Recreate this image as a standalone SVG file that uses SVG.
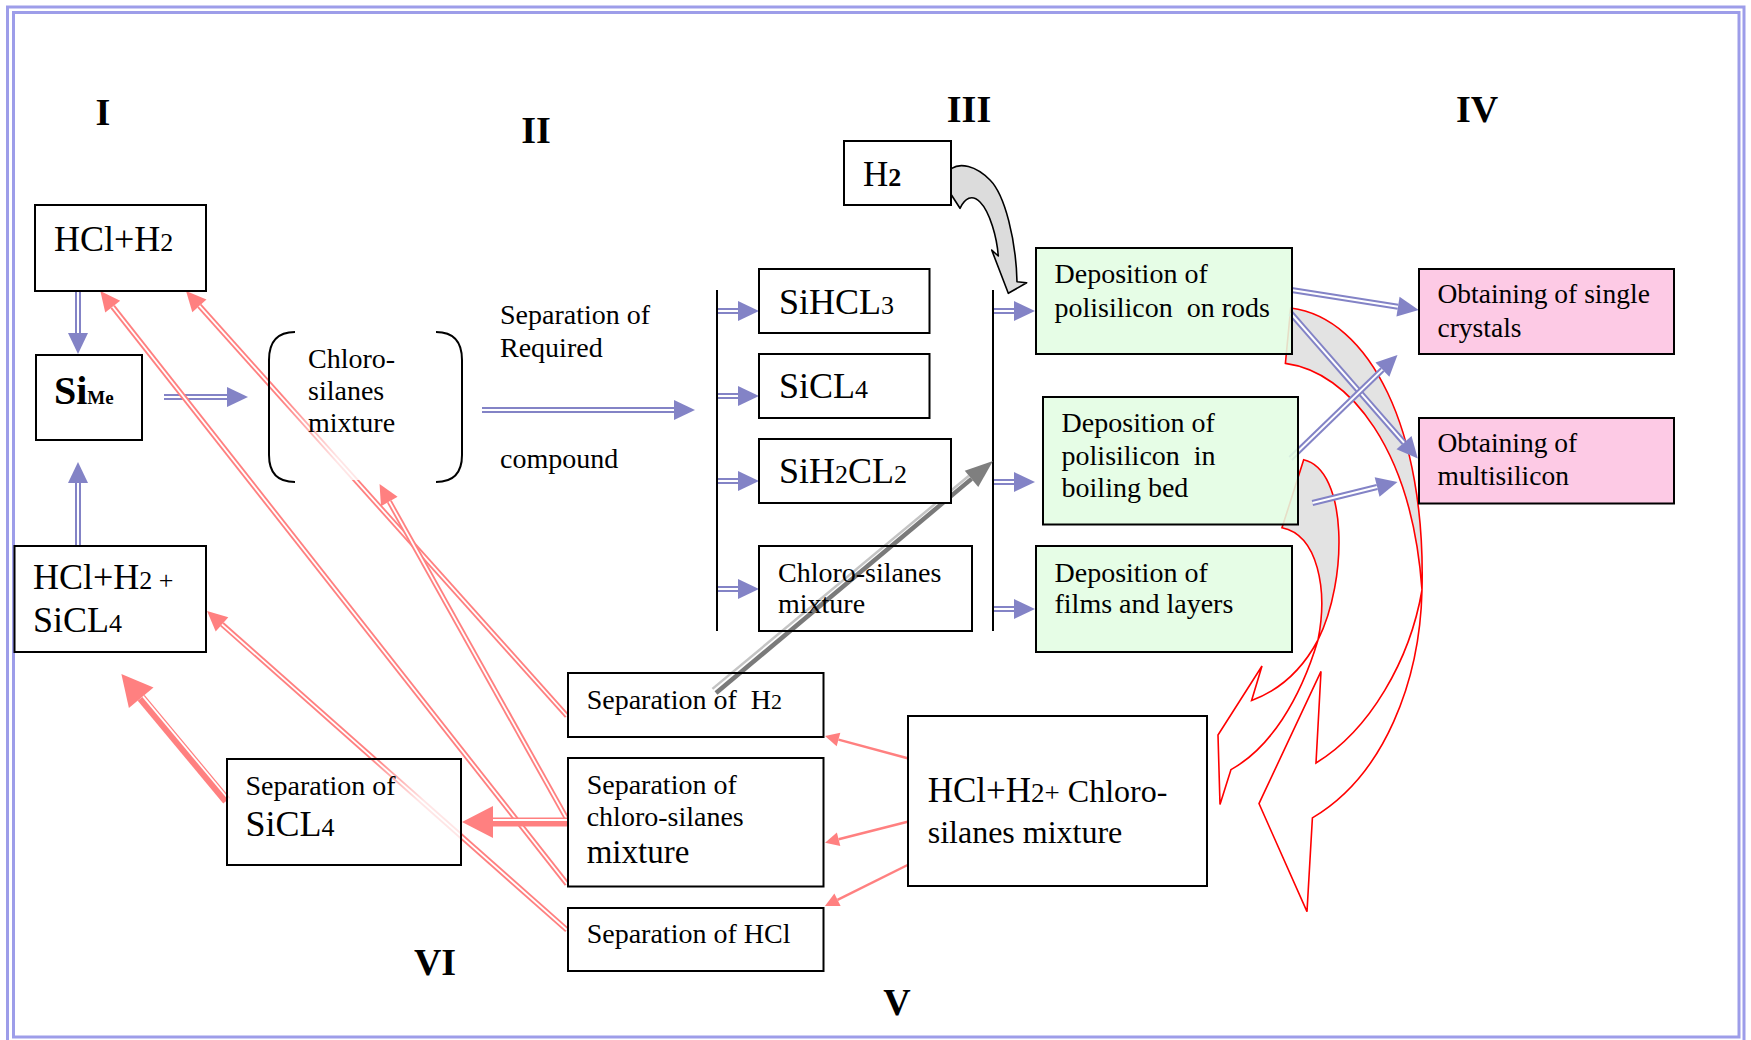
<svg xmlns="http://www.w3.org/2000/svg" width="1751" height="1040" viewBox="0 0 1751 1040">
<style>
.bx{fill:#fff;stroke:#000;stroke-width:2}
.bn{fill:none;stroke:#000;stroke-width:2}
.gb{fill:#e2fde2;fill-opacity:.88;stroke:#000;stroke-width:2}
.pb{fill:#fdcae5;stroke:#000;stroke-width:2}
text{font-family:"Liberation Serif","Times New Roman",serif;fill:#000}
.lbl{font-weight:bold;font-size:38px;text-anchor:middle}
.f28{font-size:28px}
.f36{font-size:36px}
.s26{font-size:26px}
.bl{stroke:#8383c6;stroke-width:6;fill:none;marker-end:url(#mb)}
.wl{stroke:#fff;stroke-width:2;fill:none}
.rl{stroke:#ff8080;stroke-width:5.5;fill:none;marker-end:url(#mr)}
.rw{stroke:#fff;stroke-width:1.8;fill:none}
.rt{stroke:#ff8080;stroke-width:9;fill:none;marker-end:url(#mrt)}
.rs{stroke:#ff8080;stroke-width:2.5;fill:none;marker-end:url(#mrs)}
.ca{fill:none;stroke:#ff0000;stroke-width:1.6}
.cg{fill:#e3e3e3;stroke:none}
</style>
<defs>
<marker id="mb" markerUnits="userSpaceOnUse" orient="auto" overflow="visible" refX="0" refY="0" markerWidth="1" markerHeight="1"><path d="M0,-10 L21,0 L0,10 Z" fill="#8383c6"/></marker>
<marker id="mr" markerUnits="userSpaceOnUse" orient="auto" overflow="visible" refX="0" refY="0" markerWidth="1" markerHeight="1"><path d="M0,-9.5 L20,0 L0,9.5 Z" fill="#ff8080"/></marker>
<marker id="mrt" markerUnits="userSpaceOnUse" orient="auto" overflow="visible" refX="0" refY="0" markerWidth="1" markerHeight="1"><path d="M0,-16 L31,0 L0,16 Z" fill="#ff8080"/></marker>
<marker id="mrs" markerUnits="userSpaceOnUse" orient="auto" overflow="visible" refX="0" refY="0" markerWidth="1" markerHeight="1"><path d="M0,-7 L14,0 L0,7 Z" fill="#ff8080"/></marker>
<marker id="mg" markerUnits="userSpaceOnUse" orient="auto" overflow="visible" refX="0" refY="0" markerWidth="1" markerHeight="1"><path d="M0,-10.5 L28,0 L0,10.5 Z" fill="#7f7f7f"/></marker>
<linearGradient id="fadeV" x1="0" y1="0" x2="0" y2="1"><stop offset="0" stop-color="#fff" stop-opacity="0.05"/><stop offset="0.4" stop-color="#fff" stop-opacity="0.8"/><stop offset="1" stop-color="#fff" stop-opacity="0.8"/></linearGradient>
<linearGradient id="fadeH" x1="0" y1="0" x2="1" y2="0"><stop offset="0.05" stop-color="#fff" stop-opacity="0"/><stop offset="0.35" stop-color="#fff" stop-opacity="0.8"/><stop offset="1" stop-color="#fff" stop-opacity="0.8"/></linearGradient>
</defs>
<rect x="0" y="0" width="1751" height="1040" fill="#fff"/>
<g id="frame" fill="none" stroke="#9d9de9" stroke-width="3">
<rect x="7.5" y="7" width="1736.5" height="1045"/>
<rect x="13.5" y="12.5" width="1725.5" height="1024.5"/>
</g>
<g id="labels">
<text class="lbl" x="103" y="125">I</text>
<text class="lbl" x="536" y="143">II</text>
<text class="lbl" x="969" y="122">III</text>
<text class="lbl" x="1477" y="122">IV</text>
<text class="lbl" x="897" y="1015">V</text>
<text class="lbl" x="435" y="975">VI</text>
<text class="f28" x="500" y="324">Separation of</text>
<text class="f28" x="500" y="357">Required</text>
<text class="f28" x="500" y="468">compound</text>
</g>
<g id="connectors">
<g id="curved-big">
<path class="cg" d="M1290.7,308 C1370,318 1426,430 1422,590 C1412,450 1350,372 1285.4,363.4 Z"/>
<path class="ca" d="M1290.7,308 C1370,318 1426,430 1422,590 C1420,680 1385,775 1312.4,817.9 L1307,911.6 L1259,803.6 L1321,671.4 L1316,763 C1370,730 1410,660 1422,590 C1412,450 1350,372 1285.4,363.4 Z"/>
</g>
<g id="curved-small">
<path class="cg" d="M1303.7,459.8 C1348,470 1348,580 1318,640 C1328,590 1318,535 1282,527.7 Z"/>
<path class="ca" d="M1303.7,459.8 C1348,470 1348,580 1318,640 C1300,700 1270,748 1231,769.6 L1220,804.5 L1218,735 L1262,666 L1251.6,700.5 C1280,690 1302,670 1318,640 C1328,590 1318,535 1282,527.7 Z"/>
</g>
<g id="blue-arrows">
<line class="bl" x1="78" y1="291" x2="78" y2="333"/><line class="wl" x1="78" y1="291" x2="78" y2="333"/>
<line class="bl" x1="164" y1="397" x2="227" y2="397"/><line class="wl" x1="164" y1="397" x2="227" y2="397"/>
<line class="bl" x1="78" y1="546" x2="78" y2="483"/><line class="wl" x1="78" y1="546" x2="78" y2="483"/>
<line class="bl" x1="482" y1="410" x2="674" y2="410"/><line class="wl" x1="482" y1="410" x2="674" y2="410"/>
<line class="bl" x1="717" y1="311" x2="738" y2="311"/><line class="wl" x1="717" y1="311" x2="738" y2="311"/>
<line class="bl" x1="717" y1="396" x2="738" y2="396"/><line class="wl" x1="717" y1="396" x2="738" y2="396"/>
<line class="bl" x1="717" y1="481" x2="738" y2="481"/><line class="wl" x1="717" y1="481" x2="738" y2="481"/>
<line class="bl" x1="717" y1="589" x2="738" y2="589"/><line class="wl" x1="717" y1="589" x2="738" y2="589"/>
<line class="bl" x1="993" y1="311" x2="1014" y2="311"/><line class="wl" x1="993" y1="311" x2="1014" y2="311"/>
<line class="bl" x1="993" y1="482" x2="1014" y2="482"/><line class="wl" x1="993" y1="482" x2="1014" y2="482"/>
<line class="bl" x1="993" y1="609" x2="1014" y2="609"/><line class="wl" x1="993" y1="609" x2="1014" y2="609"/>
<line class="bl" x1="1291.5" y1="290" x2="1398" y2="306.7"/><line class="wl" x1="1291.5" y1="290" x2="1398" y2="306.7"/>
<line class="bl" x1="1290.6" y1="313" x2="1404" y2="442.7"/><line class="wl" x1="1290.6" y1="313" x2="1404" y2="442.7"/>
<line class="bl" x1="1290.6" y1="458.5" x2="1382.4" y2="369.6"/><line class="wl" x1="1290.6" y1="458.5" x2="1382.4" y2="369.6"/>
<line class="bl" x1="1312.4" y1="503" x2="1377.1" y2="487"/><line class="wl" x1="1312.4" y1="503" x2="1377.1" y2="487"/>
</g>
<g id="branch-lines" stroke="#000" stroke-width="2">
<line x1="717" y1="290" x2="717" y2="631"/>
<line x1="993" y1="290" x2="993" y2="631"/>
</g>
<g id="red-arrows">
<line class="rl" x1="567" y1="716" x2="199.4" y2="305.9"/><line class="rw" x1="567" y1="716" x2="199.4" y2="305.9"/>
<line class="rl" x1="567" y1="884" x2="112.7" y2="306.7"/><line class="rw" x1="567" y1="884" x2="112.7" y2="306.7"/>
<line class="rl" x1="568" y1="821" x2="389.3" y2="501.5"/><line class="rw" x1="568" y1="821" x2="389.3" y2="501.5"/>
<line class="rl" x1="567" y1="930" x2="222" y2="624.3"/><line class="rw" x1="567" y1="930" x2="222" y2="624.3"/>
<line class="rt" x1="568" y1="822" x2="493" y2="822"/><line class="rw" x1="568" y1="820" x2="493" y2="820"/>
<line class="rt" x1="226.7" y1="800.6" x2="141.2" y2="697.8"/><line class="rw" x1="228.5" y1="799" x2="143" y2="696.3"/>
<line class="rs" x1="907.6" y1="758.3" x2="838.5" y2="739.6"/>
<line class="rs" x1="907.6" y1="821.7" x2="838.6" y2="839.3"/>
<line class="rs" x1="907.6" y1="865" x2="837.5" y2="899.8"/>
</g>
<g id="gray-arrow">
<line x1="712.4" y1="688.9" x2="968.9" y2="475.8" stroke="#c4c4c4" stroke-width="2.5"/>
<line x1="716" y1="693" x2="971.5" y2="478.9" stroke="#7a7a7a" stroke-width="4.5" marker-end="url(#mg)"/>
</g>
<g id="h2-curved-arrow">
<path d="M951.7,168.3 C960,163 975,165 990,180 C1005,195 1016,240 1017,281.7 L1026.7,282.7 L1008.3,293.3 L991.7,250 L998.3,256 C997,238 990,212 980,202 C972,194 965,198 960,208.3 L945,185 Z" fill="#dcdcdc" stroke="#000" stroke-width="1.6" stroke-linejoin="round"/>
</g>
</g>
<g id="n-hclh2">
<rect class="bx" x="35" y="205" width="171" height="86"/>
<text x="54" y="251"><tspan class="f36">HCl+H</tspan><tspan class="s26">2</tspan></text>
</g>
<g id="n-sime">
<rect class="bx" x="36" y="355" width="106" height="85"/>
<text x="54" y="404" font-weight="bold"><tspan font-size="40">Si</tspan><tspan font-size="19">Me</tspan></text>
</g>
<g id="n-hclh2sicl4">
<rect class="bx" x="14.5" y="546" width="191.5" height="106"/>
<text x="33" y="589"><tspan class="f36">HCl+H</tspan><tspan class="s26">2 +</tspan></text>
<text x="33" y="632"><tspan class="f36">SiCL</tspan><tspan class="s26">4</tspan></text>
</g>
<g id="n-chlorosilanes">
<rect x="272" y="336" width="187" height="144" fill="url(#fadeH)"/>
<path d="M295,332 Q269,332 269,360 L269,455 Q269,482 295,482" fill="none" stroke="#000" stroke-width="2"/>
<path d="M436,332 Q462,332 462,360 L462,455 Q462,482 436,482" fill="none" stroke="#000" stroke-width="2"/>
<text class="f28" x="308" y="368">Chloro-</text>
<text class="f28" x="308" y="400">silanes</text>
<text class="f28" x="308" y="432">mixture</text>
</g>
<g id="n-sihcl3">
<rect class="bx" x="759" y="269" width="170.5" height="64"/>
<text x="779" y="314"><tspan class="f36">SiHCL</tspan><tspan class="s26">3</tspan></text>
</g>
<g id="n-sicl4">
<rect class="bx" x="759" y="354" width="170.5" height="64"/>
<text x="779" y="398"><tspan class="f36">SiCL</tspan><tspan class="s26">4</tspan></text>
</g>
<g id="n-sih2cl2">
<rect class="bx" x="759" y="439" width="192" height="64"/>
<text x="779" y="483"><tspan class="f36">SiH</tspan><tspan class="s26">2</tspan><tspan class="f36">CL</tspan><tspan class="s26">2</tspan></text>
</g>
<g id="n-chloromix">
<rect class="bn" x="759" y="546" width="213" height="85"/>
<text class="f28" x="778" y="582">Chloro-silanes</text>
<text class="f28" x="778" y="612.5">mixture</text>
</g>
<g id="n-h2">
<rect class="bx" x="844" y="141" width="107" height="64"/>
<text x="863" y="186"><tspan font-size="35">H</tspan><tspan font-size="26" font-weight="bold">2</tspan></text>
</g>
<g id="n-dep-rods">
<rect class="gb" x="1036" y="248" width="256" height="106"/>
<text class="f28" x="1054.5" y="283">Deposition of</text>
<text class="f28" x="1054.5" y="316.7" xml:space="preserve">polisilicon  on rods</text>
</g>
<g id="n-dep-bed">
<rect class="gb" x="1043" y="397" width="255" height="127.5"/>
<text class="f28" x="1061.6" y="431.7">Deposition of</text>
<text class="f28" x="1061.6" y="465" xml:space="preserve">polisilicon  in</text>
<text class="f28" x="1061.6" y="496.7">boiling bed</text>
</g>
<g id="n-dep-films">
<rect class="gb" x="1036" y="546" width="256" height="106"/>
<text class="f28" x="1054.5" y="581.7">Deposition of</text>
<text class="f28" x="1054.5" y="613.3">films and layers</text>
</g>
<g id="n-single">
<rect class="pb" x="1419" y="269" width="255" height="85"/>
<text x="1437.5" y="303" font-size="27.5">Obtaining of single</text>
<text x="1437.5" y="336.7" font-size="27.5">crystals</text>
</g>
<g id="n-multi">
<rect class="pb" x="1419" y="418" width="255" height="85.5"/>
<text x="1437.5" y="451.7" font-size="27.5">Obtaining of</text>
<text x="1437.5" y="485" font-size="27.5">multisilicon</text>
</g>
<g id="n-sep-h2">
<rect class="bn" x="568" y="673" width="255.5" height="64"/>
<text x="586.7" y="709.3" xml:space="preserve"><tspan class="f28">Separation of  H</tspan><tspan font-size="22">2</tspan></text>
</g>
<g id="n-sep-chloro">
<rect class="bx" x="568" y="758" width="255.5" height="128.5"/>
<text class="f28" x="586.7" y="794">Separation of</text>
<text class="f28" x="586.7" y="825.7">chloro-silanes</text>
<text x="586.7" y="862.7" font-size="33">mixture</text>
</g>
<g id="n-sep-hcl">
<rect class="bx" x="568" y="908" width="255.5" height="63"/>
<text class="f28" x="586.7" y="943.3">Separation of HCl</text>
</g>
<g id="n-sep-sicl4">
<rect x="227" y="759" width="234" height="106" fill="url(#fadeV)" stroke="#000" stroke-width="2"/>
<text class="f28" x="245.5" y="794.8">Separation of</text>
<text x="245.5" y="836"><tspan class="f36">SiCL</tspan><tspan class="s26">4</tspan></text>
</g>
<g id="n-mixture-big">
<rect class="bx" x="908" y="716" width="299" height="170"/>
<text x="927.7" y="801.7"><tspan font-size="35">HCl+H</tspan><tspan font-size="27">2+</tspan><tspan font-size="32"> Chloro-</tspan></text>
<text x="927.7" y="843.3" font-size="32">silanes mixture</text>
</g>
</svg>
